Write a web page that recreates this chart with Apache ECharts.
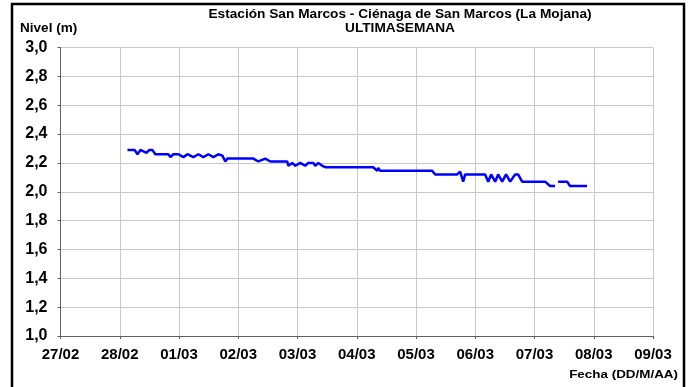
<!DOCTYPE html>
<html>
<head>
<meta charset="utf-8">
<script src="https://cdn.jsdelivr.net/npm/echarts@6/dist/echarts.min.js"></script>
<style>
  html, body { margin: 0; padding: 0; background: #fff; }
  #main { width: 690px; height: 387px; }
</style>
</head>
<body>
<div id="main"></div>
<script>
// etiquetas del eje X (dias desde 27/02 00:00)
var dateLabels = ['27/02', '28/02', '01/03', '02/03', '03/03', '04/03', '05/03', '06/03', '07/03', '08/03', '09/03'];

// tiempo en dias desde 27/02 00:00
var dias = [1.13, 1.25, 1.30, 1.35, 1.40, 1.45, 1.50, 1.55, 1.60, 1.82, 1.855, 1.905, 1.99, 2.074, 2.142,
  2.243, 2.327, 2.411, 2.496, 2.58, 2.664, 2.732, 2.782, 2.816, 3.255, 3.339, 3.457, 3.541, 3.828, 3.845,
  3.912, 3.963, 4.047, 4.13, 4.18, 4.267, 4.30, 4.351, 4.418, 4.435, 4.469, 5.278, 5.346, 5.363, 5.396,
  6.206, 6.273, 6.324, 6.695, 6.745, 6.796, 6.83, 7.167, 7.218, 7.268, 7.336, 7.386, 7.454, 7.521, 7.589,
  7.673, 7.723, 7.791, 8.179, 8.263, 8.347, 8.37, 8.398, 8.55, 8.60, 8.887];

// nivel (m); null = sin dato
var nivel = [2.29, 2.29, 2.26, 2.29, 2.28, 2.27, 2.29, 2.29, 2.26, 2.26, 2.24, 2.26, 2.26, 2.24, 2.26,
  2.24, 2.26, 2.24, 2.26, 2.24, 2.26, 2.25, 2.21, 2.23, 2.23, 2.21, 2.23, 2.21, 2.21, 2.18,
  2.20, 2.18, 2.20, 2.18, 2.20, 2.20, 2.18, 2.20, 2.18, 2.19, 2.17, 2.17, 2.145, 2.165, 2.145,
  2.145, 2.145, 2.12, 2.12, 2.14, 2.07, 2.12, 2.12, 2.07, 2.12, 2.07, 2.12, 2.07, 2.12, 2.07,
  2.12, 2.12, 2.07, 2.07, 2.04, 2.04, null, 2.07, 2.07, 2.04, 2.04];

var serie = [];
for (var i = 0; i < dias.length; i++) {
  serie.push([dias[i], nivel[i]]);
}

var myChart = echarts.init(document.getElementById('main'));
var fuente = '"Liberation Sans", Arial, sans-serif';

// texto en negrita, algo ensanchado como en la imagen original
function texto(str, x, y, size, sx, align) {
  return {
    type: 'text',
    x: x,
    y: y,
    scaleX: sx,
    silent: true,
    style: {
      text: str,
      fill: '#000',
      fontFamily: fuente,
      fontWeight: 'bold',
      fontSize: size,
      align: align,
      verticalAlign: 'middle'
    }
  };
}

myChart.setOption({
  animation: false,
  textStyle: { fontFamily: fuente },
  grid: {
    left: 60.5,
    right: 37,
    top: 47.5,
    bottom: 51
  },
  xAxis: {
    type: 'value',
    min: 0,
    max: 10,
    interval: 1,
    axisLine: { lineStyle: { color: '#606060', width: 1 } },
    axisTick: { show: true, length: 3, lineStyle: { color: '#606060' } },
    axisLabel: {
      color: '#000',
      fontWeight: 'bold',
      fontSize: 15,
      margin: 11,
      formatter: function (v) { return dateLabels[Math.round(v)]; }
    },
    splitLine: { show: true, lineStyle: { color: '#c8c8c8', width: 1 } }
  },
  yAxis: {
    type: 'value',
    min: 1.0,
    max: 3.0,
    interval: 0.2,
    axisLine: { show: true, lineStyle: { color: '#606060', width: 1 } },
    axisTick: { show: true, length: 3, lineStyle: { color: '#606060' } },
    axisLabel: {
      color: '#000',
      fontWeight: 'bold',
      fontSize: 16,
      margin: 13,
      formatter: function (v) { return v.toFixed(1).replace('.', ','); }
    },
    splitLine: { show: true, lineStyle: { color: '#c8c8c8', width: 1 } }
  },
  graphic: [
    {
      type: 'rect',
      silent: true,
      shape: { x: 12, y: 4, width: 672, height: 400 },
      style: { fill: 'none', stroke: '#000', lineWidth: 2.5 }
    },
    texto('Estación San Marcos - Ciénaga de San Marcos (La Mojana)', 400, 15, 12, 1.14, 'center'),
    texto('ULTIMASEMANA', 400, 29, 12, 1.14, 'center'),
    texto('Nivel (m)', 20, 29, 12, 1.13, 'left'),
    texto('Fecha (DD/M/AA)', 678, 375, 11, 1.22, 'right')
  ],
  series: [
    {
      name: 'Nivel',
      type: 'line',
      data: serie,
      showSymbol: false,
      connectNulls: false,
      lineStyle: { color: '#0000ff', width: 2.5 },
      itemStyle: { color: '#0000ff' }
    }
  ]
});
</script>
</body>
</html>
